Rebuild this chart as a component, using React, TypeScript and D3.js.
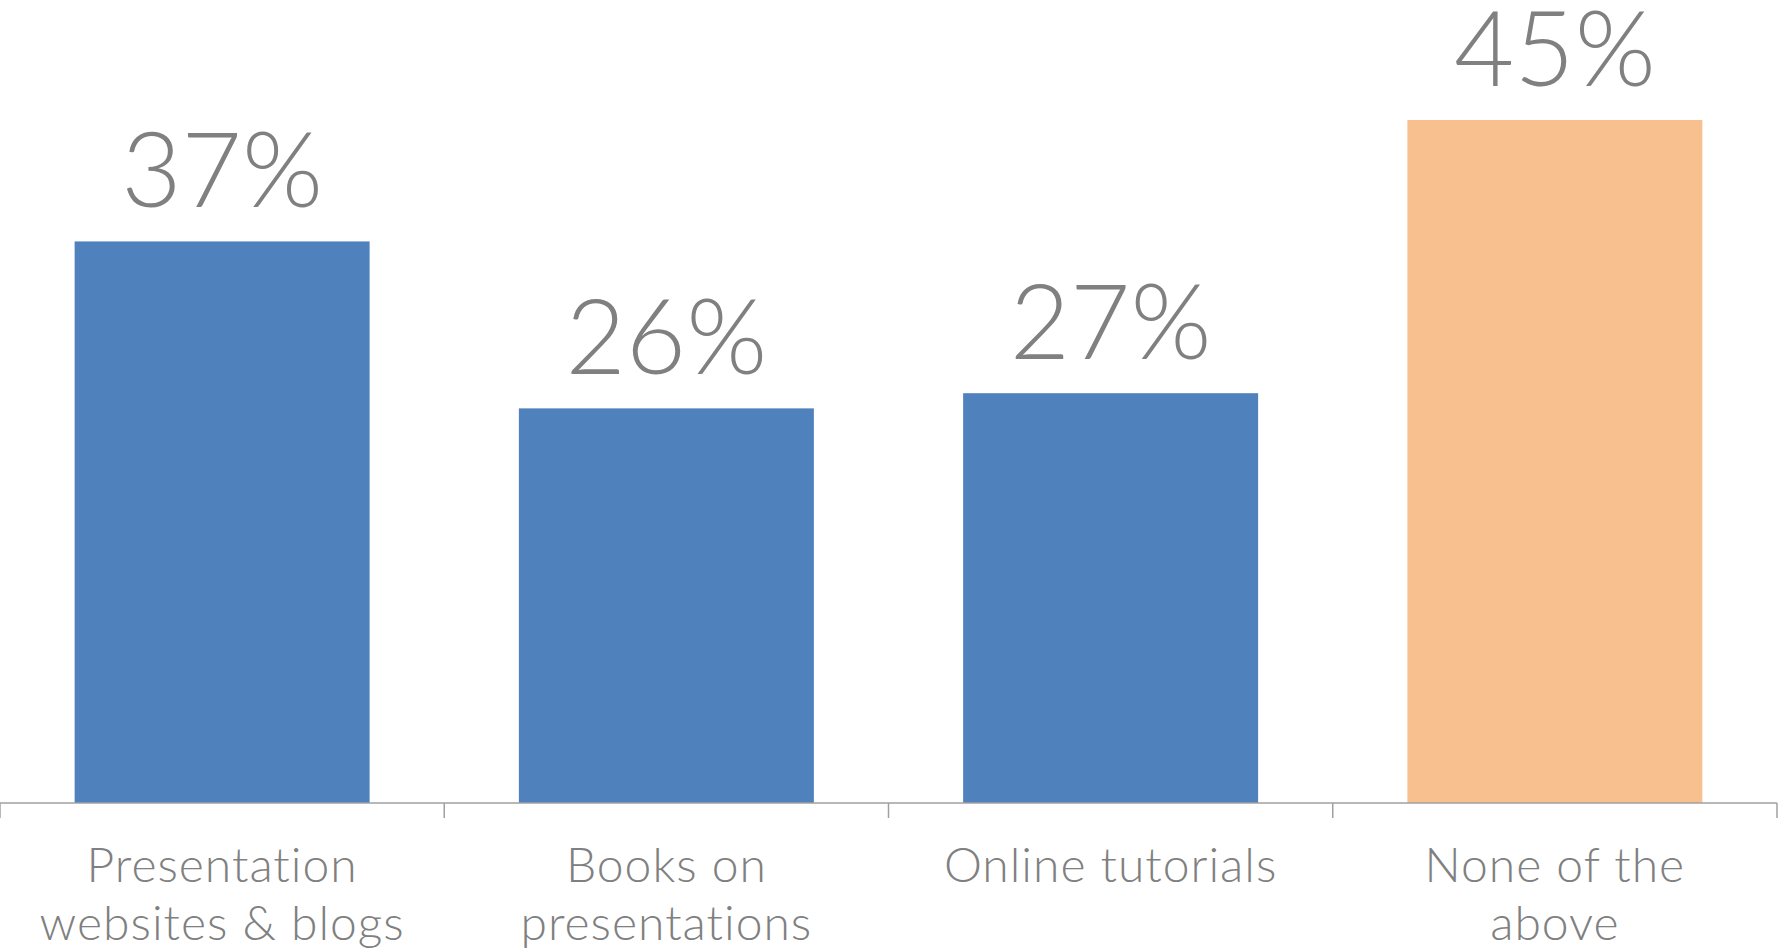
import React, { useEffect, useRef } from "react";
import { select, scaleBand, scaleLinear } from "d3";

const categories = [
  "Presentation websites & blogs",
  "Books on presentations",
  "Online tutorials",
  "None of the above",
];
const labelLines = [
  ["Presentation", "websites & blogs"],
  ["Books on", "presentations"],
  ["Online tutorials"],
  ["None of the", "above"],
];
const values = [37, 26, 27, 45];
const barColors = ["#4f81bd", "#4f81bd", "#4f81bd", "#f9c08f"];

const W = 1781;
const H = 952;

const App = () => {
  const ref = useRef(null);

  useEffect(() => {
    const svg = select(ref.current);
    svg.selectAll("*").remove();

    const axisY = 803;
    const x = scaleBand()
      .domain(categories)
      .range([0, 1777])
      .paddingInner(0.336)
      .paddingOuter(0.168);
    const y = scaleLinear().domain([0, 45]).range([axisY, 120]);

    // bars
    svg
      .selectAll(".bar")
      .data(values)
      .join("rect")
      .attr("class", "bar")
      .attr("x", (d, i) => x(categories[i]))
      .attr("y", (d) => y(d))
      .attr("width", x.bandwidth())
      .attr("height", (d) => axisY - y(d))
      .attr("fill", (d, i) => barColors[i]);

    // value labels
    svg
      .selectAll(".val")
      .data(values)
      .join("text")
      .attr("class", "val")
      .attr("x", (d, i) => x(categories[i]) + x.bandwidth() / 2)
      .attr("y", (d) => y(d) - 34)
      .attr("text-anchor", "middle")
      .attr("font-family", "Lato, 'Open Sans', sans-serif")
      .attr("font-weight", 300)
      .attr("font-size", 104)
      .attr("fill", "#808080")
      .text((d) => d + "%");

    // axis line + ticks at band edges
    const edge = (x.step() * x.paddingInner()) / 2;
    svg
      .append("line")
      .attr("x1", 0)
      .attr("x2", 1777)
      .attr("y1", axisY)
      .attr("y2", axisY)
      .attr("stroke", "#a0a0a0")
      .attr("stroke-width", 1.5);
    const tickXs = categories.map((c) => x(c) + x.bandwidth() + edge);
    svg
      .selectAll(".tick")
      .data([0, ...tickXs])
      .join("line")
      .attr("class", "tick")
      .attr("x1", (d) => d)
      .attr("x2", (d) => d)
      .attr("y1", axisY)
      .attr("y2", axisY + 15)
      .attr("stroke", "#a0a0a0")
      .attr("stroke-width", 1.5);

    // category labels
    const cat = svg
      .selectAll(".cat")
      .data(labelLines)
      .join("text")
      .attr("class", "cat")
      .attr("text-anchor", "middle")
      .attr("font-family", "Lato, 'Open Sans', sans-serif")
      .attr("font-weight", 300)
      .attr("font-size", 48)
      .attr("letter-spacing", 1)
      .attr("fill", "#808080");
    cat
      .selectAll("tspan")
      .data((d, i) => d.map((t) => ({ t, i })))
      .join("tspan")
      .attr("x", (d) => x(categories[d.i]) + x.bandwidth() / 2)
      .attr("y", (d, j) => 882 + j * 58)
      .text((d) => d.t);
  }, []);

  return (
    <svg
      ref={ref}
      width={W}
      height={H}
      style={{ position: "absolute", left: 0, top: 0, background: "#fff" }}
    ></svg>
  );
};

export default App;
